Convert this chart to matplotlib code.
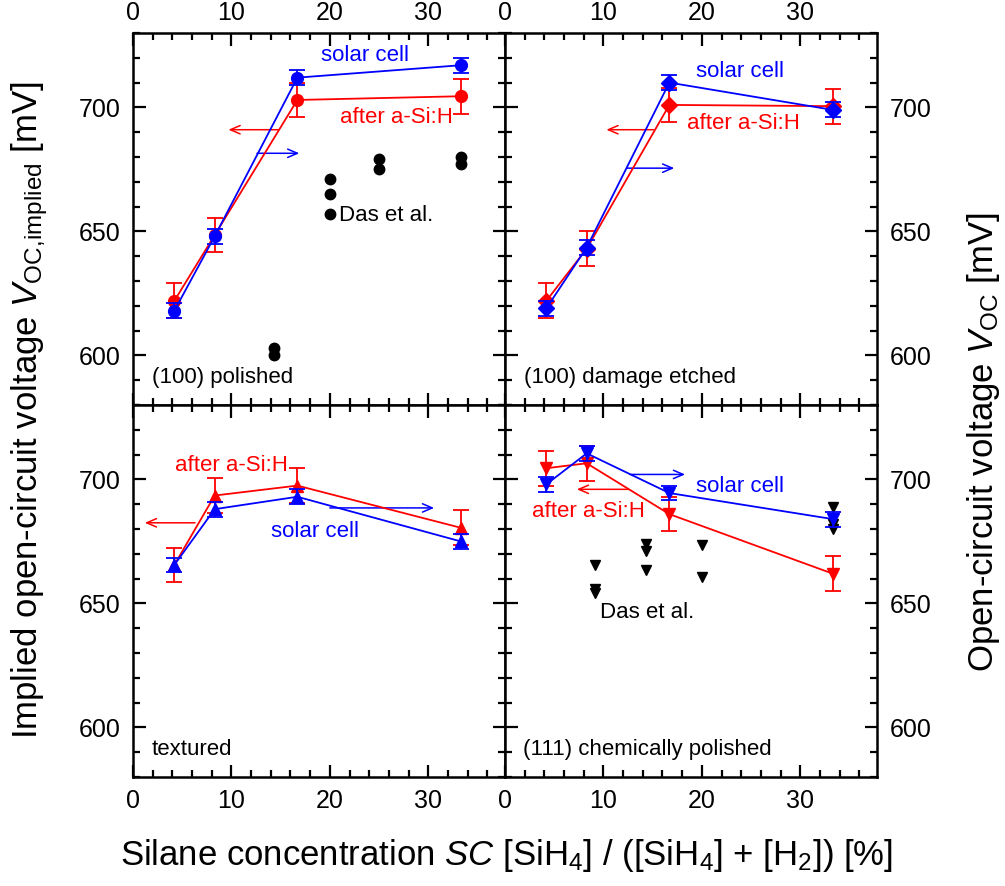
import matplotlib
matplotlib.use('Agg')
import matplotlib.pyplot as plt
from matplotlib.ticker import MultipleLocator

plt.rcParams['font.family'] = ['Liberation Sans', 'DejaVu Sans']
plt.rcParams['mathtext.fontset'] = 'custom'
plt.rcParams['mathtext.rm'] = 'Liberation Sans'
plt.rcParams['mathtext.it'] = 'Liberation Sans:italic'

# silane concentration [%]
sc = [4.2, 8.3, 16.7, 33.3]
err_after = [7, 7, 7, 7]
err_cell = [3, 3, 3, 3]

# (100) polished
pol_after = [622, 648.5, 703, 704.5]
pol_cell = [618, 648, 712, 717]
# (100) damage etched
dmg_after = [622, 643, 701, 700.5]
dmg_cell = [619, 643.5, 710, 699]
# textured
tex_after = [665.5, 693.5, 697.5, 680.5]
tex_cell = [665.5, 688, 693, 675]
# (111) chemically polished
chem_after = [704.5, 706.5, 686, 662]
chem_cell = [698, 710.5, 694.5, 684]

# Das et al.
das100_x = [14.3, 14.3, 20, 20, 20, 25, 25, 33.3, 33.3]
das100_y = [603, 600, 671, 665, 657, 679, 675, 680, 677]
das111_x = [9.1, 9.1, 9.1, 14.3, 14.3, 14.3, 20, 20, 33.3, 33.3, 33.3]
das111_y = [665.5, 656, 654, 674, 671, 663.5, 673.5, 660.5, 689, 682, 680]

fig = plt.figure(figsize=(10.05, 8.86), dpi=100)
W, H = 372 / 1005, 372 / 886
x0, x1 = 133 / 1005, 505 / 1005
y_top, y_bot = 1 - 405 / 886, 1 - 777 / 886

ax_a = fig.add_axes([x0, y_top, W, H])
ax_b = fig.add_axes([x1, y_top, W, H])
ax_c = fig.add_axes([x0, y_bot, W, H])
ax_d = fig.add_axes([x1, y_bot, W, H])

def setup(ax, top, left):
    ax.set_xlim(0, 37.8)
    ax.set_ylim(580, 730)
    ax.xaxis.set_major_locator(MultipleLocator(10))
    ax.xaxis.set_minor_locator(MultipleLocator(2))
    ax.yaxis.set_major_locator(MultipleLocator(50))
    ax.yaxis.set_minor_locator(MultipleLocator(10))
    ax.tick_params(which='both', direction='in', top=True, right=True,
                   width=1.6, labelsize=18,
                   labeltop=top, labelbottom=not top,
                   labelleft=left, labelright=not left)
    ax.tick_params(which='major', length=9)
    ax.tick_params(which='minor', length=5)
    ax.tick_params(axis='x', pad=6 if top else 9)
    ax.tick_params(axis='y', pad=9)
    for s in ax.spines.values():
        s.set_linewidth(1.8)

def series(ax, after, cell, mk, ms):
    ax.errorbar(sc, after, yerr=err_after, color='red', marker=mk, ms=ms,
                lw=1.3, elinewidth=1.3, capsize=5.8, capthick=1.3, zorder=3)
    ax.errorbar(sc, cell, yerr=err_cell, color='blue', marker=mk, ms=ms,
                lw=1.3, elinewidth=1.3, capsize=5.8, capthick=1.3, zorder=4)

def arrow(ax, tail, tip, col):
    ax.annotate('', xy=tip, xytext=tail,
                arrowprops=dict(arrowstyle='->,head_length=0.7,head_width=0.3',
                                color=col, lw=1.1, shrinkA=0, shrinkB=0))

fs = 16

# (100) polished
setup(ax_a, True, True)
series(ax_a, pol_after, pol_cell, 'o', 8.5)
ax_a.plot(das100_x, das100_y, 'o', color='black', ms=7.5, ls='none')
arrow(ax_a, (14.8, 691), (9.7, 691), 'red')
arrow(ax_a, (12.6, 681.5), (16.9, 681.5), 'blue')
ax_a.text(23.6, 721, 'solar cell', color='blue', fontsize=fs, ha='center', va='center')
ax_a.text(26.8, 696, 'after a-Si:H', color='red', fontsize=fs, ha='center', va='center')
ax_a.text(20.9, 656.5, 'Das et al.', color='black', fontsize=fs, ha='left', va='center')
ax_a.text(1.9, 591, '(100) polished', fontsize=fs, ha='left', va='center')

# (100) damage etched
setup(ax_b, True, False)
series(ax_b, dmg_after, dmg_cell, 'D', 8)
arrow(ax_b, (15.1, 691), (10.3, 691), 'red')
arrow(ax_b, (12.4, 675.5), (17.2, 675.5), 'blue')
ax_b.text(23.9, 714.5, 'solar cell', color='blue', fontsize=fs, ha='center', va='center')
ax_b.text(24.2, 693.5, 'after a-Si:H', color='red', fontsize=fs, ha='center', va='center')
ax_b.text(1.9, 591, '(100) damage etched', fontsize=fs, ha='left', va='center')

# textured
setup(ax_c, False, True)
series(ax_c, tex_after, tex_cell, '^', 9)
arrow(ax_c, (6.3, 682.5), (1.2, 682.5), 'red')
arrow(ax_c, (20.0, 688.5), (30.6, 688.5), 'blue')
ax_c.text(10.0, 705.5, 'after a-Si:H', color='red', fontsize=fs, ha='center', va='center')
ax_c.text(18.5, 679, 'solar cell', color='blue', fontsize=fs, ha='center', va='center')
ax_c.text(1.9, 591, 'textured', fontsize=fs, ha='left', va='center')

# (111) chemically polished
setup(ax_d, False, False)
series(ax_d, chem_after, chem_cell, 'v', 9)
ax_d.plot(das111_x, das111_y, 'v', color='black', ms=7.5, ls='none')
arrow(ax_d, (12.7, 702), (18.3, 702), 'blue')
arrow(ax_d, (12.5, 696), (7.3, 696), 'red')
ax_d.text(23.9, 697, 'solar cell', color='blue', fontsize=fs, ha='center', va='center')
ax_d.text(8.5, 687, 'after a-Si:H', color='red', fontsize=fs, ha='center', va='center')
ax_d.text(9.7, 646.5, 'Das et al.', color='black', fontsize=fs, ha='left', va='center')
ax_d.text(1.8, 591, '(111) chemically polished', fontsize=fs, ha='left', va='center')

fig.text(30 / 1005, 1 - 410 / 886,
         r'Implied open-circuit voltage $\mathit{V}_{\mathrm{OC{,}implied}}$ [mV]',
         rotation=90, ha='center', va='center', fontsize=25)
fig.text(983 / 1005, 1 - 442 / 886,
         r'Open-circuit voltage $\mathit{V}_{\mathrm{OC}}$ [mV]',
         rotation=90, ha='center', va='center', fontsize=25)
fig.text(507 / 1005, 1 - 855 / 886,
         r'Silane concentration $\mathit{SC}$ [SiH$_4$] / ([SiH$_4$] + [H$_2$]) [%]',
         ha='center', va='center', fontsize=25)

fig.savefig('out.png', dpi=100)
